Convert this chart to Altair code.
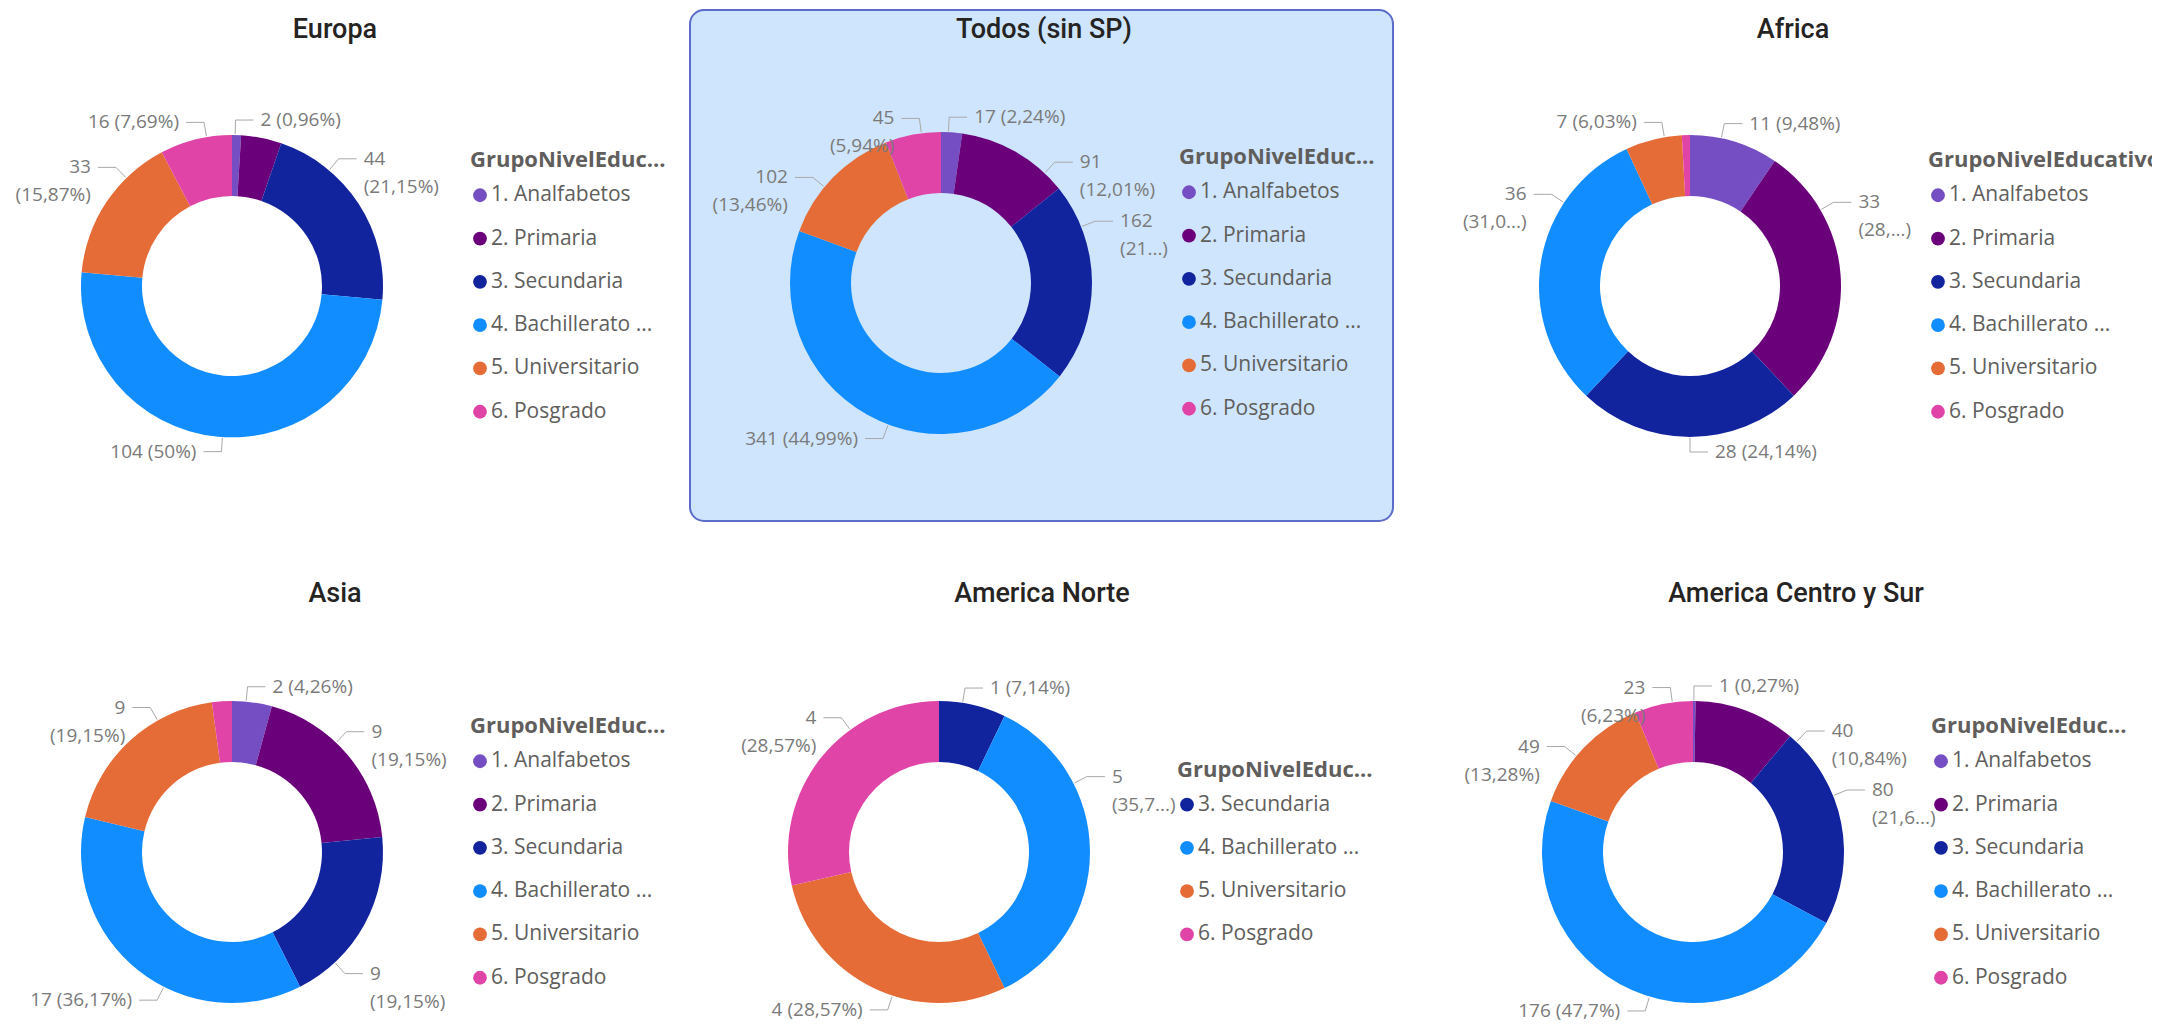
import math
import altair as alt
import pandas as pd

# ---------------- data ----------------
categories = ["1. Analfabetos", "2. Primaria", "3. Secundaria",
              "4. Bachillerato ...", "5. Universitario", "6. Posgrado"]
colors = ["#744EC2", "#6B007B", "#12239E", "#118DFF", "#E66C37", "#E044A7"]

panels = ["Europa", "Todos (sin SP)", "Africa",
          "Asia", "America Norte", "America Centro y Sur"]
legend_titles = ["GrupoNivelEduc...", "GrupoNivelEduc...", "GrupoNivelEducativo",
                 "GrupoNivelEduc...", "GrupoNivelEduc...", "GrupoNivelEduc..."]

europa = [2, 9, 44, 104, 33, 16]
todos = [17, 91, 162, 341, 102, 45]
africa = [11, 33, 28, 36, 7, 1]
asia = [2, 9, 9, 17, 9, 1]
america_norte = [0, 0, 1, 5, 4, 4]
america_cs = [1, 40, 80, 176, 49, 23]

europa_labels = ["2 (0,96%)", "", "44\n(21,15%)", "104 (50%)", "33\n(15,87%)", "16 (7,69%)"]
todos_labels = ["17 (2,24%)", "91\n(12,01%)", "162\n(21...)", "341 (44,99%)", "102\n(13,46%)", "45\n(5,94%)"]
africa_labels = ["11 (9,48%)", "33\n(28,...)", "28 (24,14%)", "36\n(31,0...)", "7 (6,03%)", ""]
asia_labels = ["2 (4,26%)", "9\n(19,15%)", "9\n(19,15%)", "17 (36,17%)", "9\n(19,15%)", ""]
america_norte_labels = ["", "", "1 (7,14%)", "5\n(35,7...)", "4 (28,57%)", "4\n(28,57%)"]
america_cs_labels = ["1 (0,27%)", "40\n(10,84%)", "80\n(21,6...)", "176 (47,7%)", "49\n(13,28%)", "23\n(6,23%)"]

values = [europa, todos, africa, asia, america_norte, america_cs]
labels = [europa_labels, todos_labels, africa_labels, asia_labels,
          america_norte_labels, america_cs_labels]
selected_panel = "Todos (sin SP)"

# ---------------- layout (page pixels) ----------------
OFF = 8
centers = [(232, 286), (941, 283), (1690, 286), (232, 852), (939, 852), (1693, 852)]
title_y = [30, 30, 30, 594, 594, 594]
R_OUT, R_IN = 151, 90
LEAD1, LEAD2, GAP = 15, 18, 7
RR = R_OUT + LEAD1
KT, KB = 0.7, 0.7
LH = 28
CHAR_W = 10.2
ITEM_STEP, TITLE_STEP = 43.3, 35

rows, leg_rows, title_rows = [], [], []
for p, vals, labs, (cx, cy), ty, lt in zip(panels, values, labels, centers, title_y, legend_titles):
    present = [i for i, v in enumerate(vals) if v > 0]
    n = len(present)
    for i in present:
        rows.append(dict(panel=p, category=categories[i], idx=i, value=vals[i],
                         label=labs[i], cx=cx - OFF, cy=cy - OFF))
    for rank, i in enumerate(present):
        leg_rows.append(dict(panel=p, category=categories[i], rank=rank, n=n,
                             cx=cx - OFF, cy=cy - OFF))
    title_rows.append(dict(panel=p, legtitle=lt, n=n, cx=cx - OFF, cy=cy - OFF,
                           ty=ty - OFF, sel=(p == selected_panel)))

df = pd.DataFrame(rows)
leg_df = pd.DataFrame(leg_rows)
title_df = pd.DataFrame(title_rows)

color = alt.Color("category:N", scale=alt.Scale(domain=categories, range=colors), legend=None)
X = lambda f: alt.X(f, scale=None, axis=None)
Y = lambda f: alt.Y(f, scale=None, axis=None)

stacked = alt.Chart(df).transform_stack(
    stack="value", groupby=["panel"], as_=["s0", "s1"], offset="normalize",
    sort=[alt.SortField("idx", order="ascending")]
)

arcs = stacked.mark_arc(outerRadius=R_OUT, innerRadius=R_IN).encode(
    x=X("cx:Q"), y=Y("cy:Q"),
    theta=alt.Theta("s0:Q", stack=None, scale=alt.Scale(domain=[0, 1], range=[0, 2 * math.pi])),
    theta2="s1:Q",
    color=color,
)


def extents(ch, ey, sfx):
    """x extent of a label whose elbow sits at height `ey`."""
    return ch.transform_calculate(**{
        "dy" + sfx: f"clamp(datum.{ey} - datum.cy, -{RR}, {RR})",
        "q" + sfx: f"sqrt({RR * RR} - datum.dy{sfx}*datum.dy{sfx})",
        "tx" + sfx: f"datum.cx + datum.sgn*(datum.q{sfx} + {LEAD2 + GAP})",
        "lo" + sfx: f"datum.sgn > 0 ? datum.tx{sfx} : datum.tx{sfx} - datum.w",
        "hi" + sfx: f"datum.sgn > 0 ? datum.tx{sfx} + datum.w : datum.tx{sfx}",
    })


def push(ch, ey, sfx, out):
    """push a label down when it overlaps the label above it on the same side."""
    ch = ch.transform_window(
        window=[alt.WindowFieldDef(**{"op": "lag", "field": f, "param": 1, "as": "p_" + f})
                for f in [ey, "hh", "lo" + sfx, "hi" + sfx]],
        groupby=["panel", "sgn"], sort=[alt.SortField("ord", order="ascending")],
    )
    return ch.transform_calculate(**{
        out: (f"isValid(datum.p_{ey}) && max(datum.lo{sfx}, datum.p_lo{sfx}) < "
              f"min(datum.hi{sfx}, datum.p_hi{sfx}) ? max(datum.{ey}, datum.p_{ey} + "
              f"(datum.hh + datum.p_hh)/2 + 3) : datum.{ey}")
    })


lab = stacked.transform_filter("datum.label != ''").transform_calculate(
    m="PI*(datum.s0+datum.s1)",
    sgn="sin(datum.m) >= 0 ? 1 : -1",
    vsg="cos(datum.m) >= 0 ? 1 : -1",
    ph=f"(datum.vsg > 0 ? {KT} : {KB})*acos(abs(cos(datum.m)))",
    ey0=f"datum.cy - {RR}*datum.vsg*cos(datum.ph)",
    nl="indexof(datum.label, '\\n') >= 0 ? 2 : 1",
    hh=f"datum.nl*{LH}",
    w=(f"{CHAR_W}*max(length(split(datum.label, '\\n')[0]), "
       f"length(peek(split(datum.label, '\\n'))))"),
    ord="datum.sgn > 0 ? datum.m : -datum.m",
)
lab = extents(lab, "ey0", "0")
lab = push(lab, "ey0", "0", "ey1")
lab = extents(lab, "ey1", "1")
lab = push(lab, "ey1", "1", "ey")
lab = lab.transform_calculate(
    dyf=f"clamp(datum.ey - datum.cy, -{RR}, {RR})",
    qf=f"sqrt({RR * RR} - datum.dyf*datum.dyf)",
    ex="datum.cx + datum.sgn*datum.qf",
    ax=f"datum.cx + datum.sgn*datum.qf*{(R_OUT + 1) / RR}",
    ay=f"datum.cy + datum.dyf*{(R_OUT + 1) / RR}",
    hx=f"datum.ex + {LEAD2}*datum.sgn",
    tx=f"datum.hx + {GAP}*datum.sgn",
)

lead_color = "#A8A8A8"
rule1 = lab.mark_rule(color=lead_color, strokeWidth=1).encode(
    x=X("ax:Q"), y=Y("ay:Q"), x2="ex:Q", y2="ey:Q")
rule2 = lab.mark_rule(color=lead_color, strokeWidth=1).encode(
    x=X("ex:Q"), y=Y("ey:Q"), x2="hx:Q", y2="ey:Q")

label_font = "Segoe UI, Open Sans, sans-serif"
txt_kw = dict(baseline="middle", fontSize=19, lineHeight=LH, lineBreak="\n",
              color="#7A7A7A", font=label_font)
text_r = lab.transform_filter("datum.sgn > 0").mark_text(align="left", **txt_kw).encode(
    x=X("tx:Q"), y=Y("ey:Q"), text="label:N")
text_l = lab.transform_filter("datum.sgn < 0").mark_text(align="right", **txt_kw).encode(
    x=X("tx:Q"), y=Y("ey:Q"), text="label:N")

# highlight box for the selected visual
box = alt.Chart(title_df).transform_filter("datum.sel").transform_calculate(
    bx="datum.cx - 251", bx2="datum.cx + 452", by="datum.ty - 20", by2="datum.cy + 238"
).mark_rect(cornerRadius=14, fill="#CFE5FD", stroke="#5B6CCB", strokeWidth=2).encode(
    x=X("bx:Q"), x2="bx2:Q", y=Y("by:Q"), y2="by2:Q")

titles = alt.Chart(title_df).transform_calculate(tx="datum.cx + 103").mark_text(
    fontSize=27, font="Roboto", fontWeight=500, color="#252423", baseline="middle",
    align="center"
).encode(x=X("tx:Q"), y=Y("ty:Q"), text="panel:N")

leg_top = f"datum.cy - ({TITLE_STEP} + (datum.n - 1)*{ITEM_STEP})/2"
leg_title = alt.Chart(title_df).transform_calculate(
    lx="datum.cx + 238", ly=leg_top
).mark_text(fontSize=22, fontWeight="bold", font=label_font, color="#605E5C",
            align="left", baseline="middle").encode(
    x=X("lx:Q"), y=Y("ly:Q"), text="legtitle:N")

leg = alt.Chart(leg_df).transform_calculate(
    ly=f"{leg_top} + {TITLE_STEP} + datum.rank*{ITEM_STEP}",
    px="datum.cx + 248", lx="datum.cx + 259"
)
leg_pts = leg.mark_circle(size=190, opacity=1).encode(x=X("px:Q"), y=Y("ly:Q"), color=color)
leg_txt = leg.mark_text(fontSize=21, font=label_font, color="#605E5C", align="left",
                        baseline="middle").encode(x=X("lx:Q"), y=Y("ly:Q"), text="category:N")

chart = alt.layer(
    box, arcs, rule1, rule2, text_r, text_l, titles, leg_title, leg_pts, leg_txt
).properties(
    width=2144, height=1019, padding=0,
    autosize=alt.AutoSizeParams(type="none"),
).configure_view(stroke=None)

chart.save("out.html", embed_options={"renderer": "svg", "actions": False})
